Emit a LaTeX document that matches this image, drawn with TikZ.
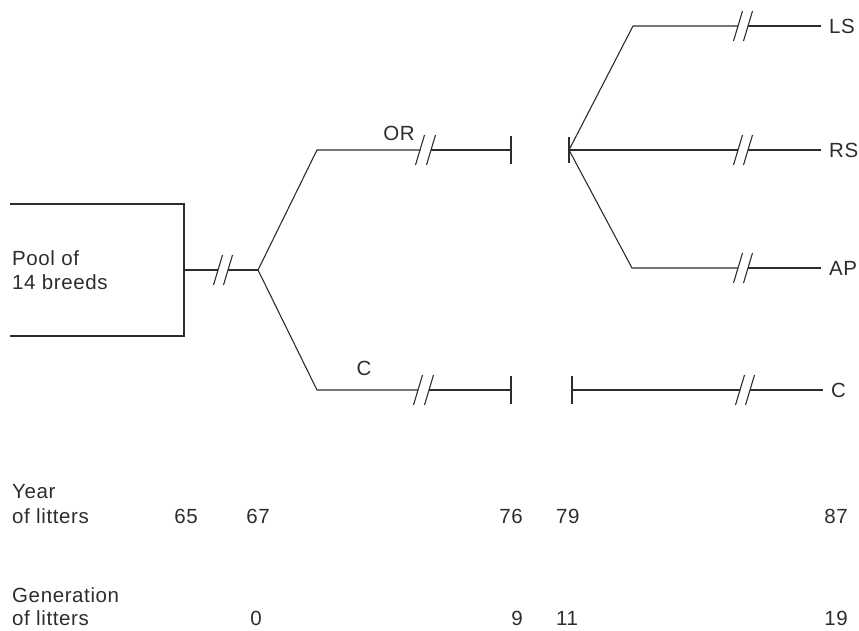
\documentclass[tikz,border=0pt]{standalone}
\usepackage{fontspec}
\setmainfont[LetterSpace=3]{Liberation Sans}
\definecolor{ink}{RGB}{45,45,45}
\begin{document}
\begin{tikzpicture}[x=1pt,y=-1pt,
  ln/.style={draw=ink,line width=1.1pt},
  lbl/.style={inner sep=0pt,text=ink,font=\fontsize{20.5}{24}\selectfont,anchor=base west},
  num/.style={inner sep=0pt,text=ink,font=\fontsize{20.5}{24}\selectfont,anchor=base}]
\useasboundingbox (0,0) rectangle (859,630);
% break mark macro: slash centred at (#1,#2)
\newcommand{\brk}[2]{\draw[ln] (#1-4.5,#2+15) -- (#1+4.5,#2-15);}
% ---- pool box ----
\coordinate (btl) at (10,204);
\coordinate (btr) at (184,204);
\coordinate (bbr) at (184,336);
\coordinate (bbl) at (10,336);
\coordinate (bmid) at (184,270);
\draw[ln] (btl) -- (btr) -- (bbr) -- (bbl);
\node[lbl] (pool1) at (12,265) {Pool of};
\node[lbl] (pool2) at (12,289) {14 breeds};
% ---- first junction ----
\coordinate (j1) at (258,270);
\coordinate (b1a) at (218,270);
\coordinate (b1b) at (228,270);
\draw[ln] (bmid) -- (b1a);
\draw[ln] (b1b) -- (j1);
\brk{218}{270}\brk{228}{270}
% ---- OR branch ----
\coordinate (orc) at (317,150);
\coordinate (ora) at (420,150);
\coordinate (orb) at (431,150);
\coordinate (ore) at (511,150);
\draw[ln] (j1) -- (orc) -- (ora);
\draw[ln] (orb) -- (ore);
\brk{420}{150}\brk{431}{150}
\draw[ln] (511,136) -- (511,164);
\node[num] (orl) at (399,140) {OR};
% ---- C branch ----
\coordinate (cc) at (317,390);
\coordinate (ca) at (418,390);
\coordinate (cb) at (429,390);
\coordinate (ce) at (511,390);
\draw[ln] (j1) -- (cc) -- (ca);
\draw[ln] (cb) -- (ce);
\brk{418}{390}\brk{429}{390}
\draw[ln] (511,376) -- (511,404);
\node[num] (cl) at (364,375) {C};
% ---- second junction ----
\coordinate (j2) at (569,150);
\draw[ln] (569,137) -- (569,163);
\coordinate (lsc) at (633,26);
\coordinate (apc) at (632,268);
% LS
\draw[ln] (j2) -- (lsc) -- (738,26);
\draw[ln] (748,26) -- (821,26);
\brk{738}{26}\brk{748}{26}
\node[lbl] (ls) at (829,33) {LS};
% RS
\draw[ln] (j2) -- (738,150);
\draw[ln] (748,150) -- (821,150);
\brk{738}{150}\brk{748}{150}
\node[lbl] (rs) at (829,157) {RS};
% AP
\draw[ln] (j2) -- (apc) -- (738,268);
\draw[ln] (748,268) -- (821,268);
\brk{738}{268}\brk{748}{268}
\node[lbl] (ap) at (829,275) {AP};
% C right
\draw[ln] (572,376) -- (572,404);
\draw[ln] (572,390) -- (740,390);
\draw[ln] (750,390) -- (823,390);
\brk{740}{390}\brk{750}{390}
\node[lbl] (cr) at (831,397) {C};
% ---- bottom rows ----
\node[lbl] (y1) at (12,498) {Year};
\node[lbl] (y2) at (12,523) {of litters};
\node[num] (y65) at (186,523) {65};
\node[num] (y67) at (258,523) {67};
\node[num,anchor=base east] (y76) at (523,523) {76};
\node[num,anchor=base west] (y79) at (556,523) {79};
\node[num,anchor=base east] (y87) at (848,523) {87};
\node[lbl] (g1) at (12,602) {Generation};
\node[lbl] (g2) at (12,625) {of litters};
\node[num] (g0) at (256,625) {0};
\node[num,anchor=base east] (g9) at (523,625) {9};
\node[num,anchor=base west] (g11) at (556,625) {11};
\node[num,anchor=base east] (g19) at (848,625) {19};
\end{tikzpicture}
\end{document}
